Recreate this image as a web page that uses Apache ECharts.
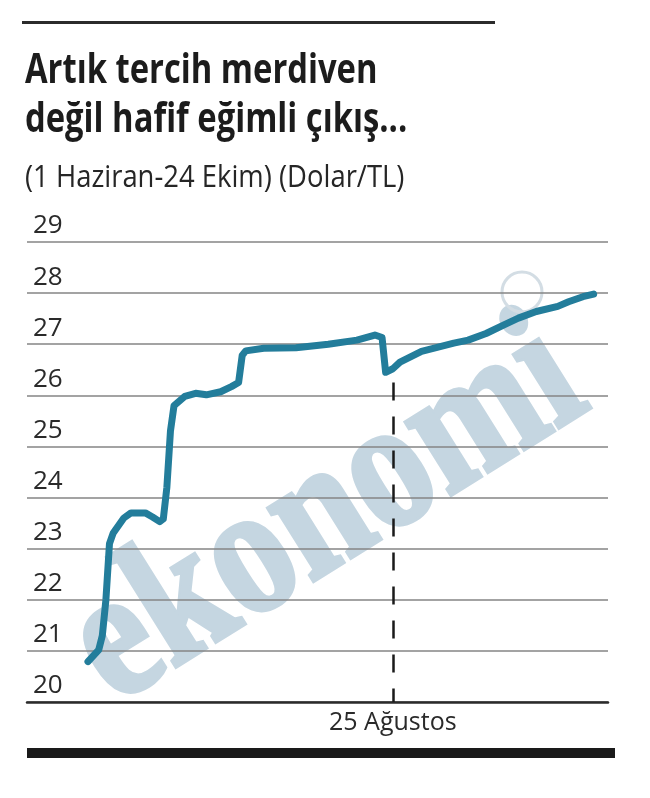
<!DOCTYPE html>
<html>
<head>
<meta charset="utf-8">
<script src="https://cdn.jsdelivr.net/npm/echarts@6/dist/echarts.min.js"></script>
<style>
html,body{margin:0;padding:0;background:#fff;}
#c{width:650px;height:798px;}
</style>
</head>
<body>
<div id="c"></div>
<script>
// ---- data ----
const dates = [
  '2023-06-01','2023-06-04','2023-06-05','2023-06-06','2023-06-07','2023-06-08',
  '2023-06-11','2023-06-13','2023-06-17','2023-06-19','2023-06-21','2023-06-22',
  '2023-06-23','2023-06-24','2023-06-25','2023-06-28','2023-07-01','2023-07-04',
  '2023-07-08','2023-07-11','2023-07-13','2023-07-14','2023-07-15','2023-07-20',
  '2023-07-29','2023-08-07','2023-08-15','2023-08-20','2023-08-22','2023-08-23',
  '2023-08-25','2023-08-27','2023-09-02','2023-09-11','2023-09-15','2023-09-20',
  '2023-09-25','2023-09-29','2023-10-04','2023-10-10','2023-10-13','2023-10-17',
  '2023-10-20'
];
const usdTry = [
  20.79, 21.02, 21.30, 22.00, 23.10, 23.30,
  23.60, 23.70, 23.70, 23.62, 23.53, 23.58,
  24.20, 25.30, 25.80, 25.98, 26.04, 26.01,
  26.07, 26.17, 26.25, 26.78, 26.87, 26.92,
  26.93, 27.00, 27.08, 27.18, 27.13, 26.45,
  26.52, 26.65, 26.86, 27.02, 27.08, 27.21,
  27.38, 27.51, 27.64, 27.74, 27.83, 27.93,
  27.98
];
const yTickValues = [20, 21, 22, 23, 24, 25, 26, 27, 28, 29];
const axisStart = '2023-05-15';
const axisEnd = '2023-10-24';
const markDate = '2023-08-25';
const markLabel = '25 Ağustos';
const titleLines = ['Artık tercih merdiven', 'değil hafif eğimli çıkış...'];
const subtitleText = '(1 Haziran-24 Ekim) (Dolar/TL)';
const watermarkText = 'ekonomi';

// ---- chart ----
const chart = echarts.init(document.getElementById('c'), null, { renderer: 'canvas' });
const ts = s => echarts.number.parseDate(s).getTime();

const option = {
  animation: false,
  backgroundColor: '#ffffff',
  grid: { left: 27, right: 42, top: 242, bottom: 96 },
  xAxis: {
    type: 'time',
    min: ts(axisStart),
    max: ts(axisEnd),
    axisLine: { show: true, lineStyle: { color: '#2b2b2b', width: 2.5 } },
    axisTick: { show: false },
    splitLine: { show: false },
    axisLabel: { show: false }
  },
  yAxis: {
    type: 'value',
    min: yTickValues[0],
    max: yTickValues[yTickValues.length - 1],
    interval: 1,
    axisLine: { show: false },
    axisTick: { show: false },
    splitLine: { show: true, lineStyle: { color: '#858585', width: 1.5 } },
    axisLabel: {
      inside: true,
      margin: 6,
      align: 'left',
      verticalAlign: 'bottom',
      lineHeight: 26,
      padding: [0, 0, 3, 0],
      color: '#2a2a2a',
      fontSize: 26,
      fontFamily: 'Open Sans',
      showMinLabel: true,
      showMaxLabel: true
    }
  },
  series: [{
    type: 'line',
    data: dates.map((d, i) => [d, usdTry[i]]),
    showSymbol: false,
    symbol: 'none',
    z: 3,
    lineStyle: { color: '#237d9b', width: 7, cap: 'round', join: 'round' },
    markLine: {
      silent: true,
      symbol: 'none',
      label: {
        show: true,
        position: 'end',
        formatter: markLabel,
        distance: 8,
        color: '#2a2a2a',
        fontSize: 25,
        fontFamily: 'Open Sans'
      },
      lineStyle: { type: [18, 16], color: '#1a1a1a', width: 2.5 },
      data: [[{ coord: [markDate, 26.25] }, { coord: [markDate, yTickValues[0]] }]]
    }
  }],
  graphic: [
    { type: 'rect', z: 5, shape: { x: 22, y: 21, width: 473, height: 3 }, style: { fill: '#2b2b2b' } },
    { type: 'text', z: 5, x: 25, y: 71, scaleX: 0.78,
      style: { text: titleLines[0], font: 'bold 42px "Open Sans"', fill: '#1c1c1c', align: 'left', verticalAlign: 'middle' } },
    { type: 'text', z: 5, x: 25, y: 120, scaleX: 0.78,
      style: { text: titleLines[1], font: 'bold 42px "Open Sans"', fill: '#1c1c1c', align: 'left', verticalAlign: 'middle' } },
    { type: 'text', z: 5, x: 25, y: 178, scaleX: 0.885,
      style: { text: subtitleText, font: '31px "Open Sans"', fill: '#262626', align: 'left', verticalAlign: 'middle' } },
    { type: 'rect', z: 5, shape: { x: 27, y: 748, width: 588, height: 10 }, style: { fill: '#1a1a1a' } },
    { type: 'text', z: -1, x: 328, y: 515, rotation: 32 * Math.PI / 180, scaleX: 0.83,
      style: { text: watermarkText, font: 'bold 185px "Liberation Serif"', fill: '#c5d6e1',
               stroke: '#c5d6e1', lineWidth: 5, align: 'center', verticalAlign: 'middle' } },
    { type: 'circle', z: -1, shape: { cx: 522, cy: 292, r: 20 }, style: { fill: 'none', stroke: '#d3dde4', lineWidth: 3 } }
  ]
};
chart.setOption(option);
</script>
</body>
</html>
